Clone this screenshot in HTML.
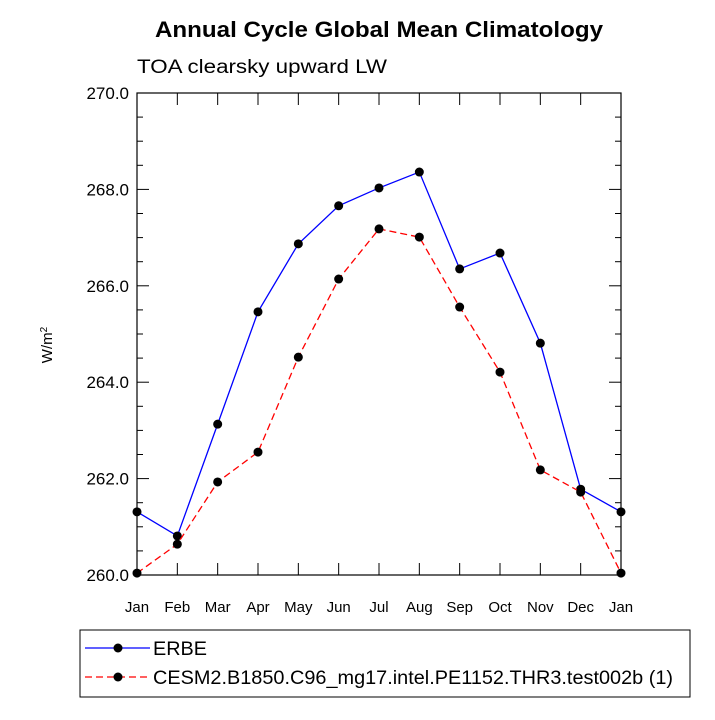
<!DOCTYPE html>
<html><head><meta charset="utf-8"><style>
body{margin:0;background:#fff;}
svg text{font-family:"Liberation Sans",Helvetica,sans-serif;}
</style></head><body>
<svg id="chart" width="715" height="715" xmlns="http://www.w3.org/2000/svg">
<rect width="715" height="715" fill="#fff"/>
<text x="379" y="37" text-anchor="middle" font-size="22" font-weight="bold" textLength="448" lengthAdjust="spacingAndGlyphs">Annual Cycle Global Mean Climatology</text>
<text x="137" y="73" font-size="19" textLength="250" lengthAdjust="spacingAndGlyphs">TOA clearsky upward LW</text>
<text transform="translate(52,345) rotate(-90)" text-anchor="middle" font-size="15">W/m<tspan baseline-shift="super" font-size="10">2</tspan></text>
<g id="axes"></g>
<g id="series"></g>
<g>
<rect x="80" y="630" width="610" height="67" fill="none" stroke="#000" stroke-width="1"/>
<g>
<line x1="85" y1="648" x2="150" y2="648" stroke="#0000ff" stroke-width="1.3"/>
<circle cx="118" cy="648" r="4.5" fill="#000"/>
<text x="153" y="655" font-size="19" textLength="54" lengthAdjust="spacingAndGlyphs">ERBE</text></g>
<g>
<line x1="85" y1="677" x2="150" y2="677" stroke="#ff0000" stroke-width="1.3" stroke-dasharray="7,4"/>
<circle cx="118" cy="677" r="4.5" fill="#000"/>
<text x="153" y="684" font-size="19" textLength="520" lengthAdjust="spacingAndGlyphs">CESM2.B1850.C96_mg17.intel.PE1152.THR3.test002b (1)</text></g>
</g>
</svg>
<script>
const months = ["Jan","Feb","Mar","Apr","May","Jun","Jul","Aug","Sep","Oct","Nov","Dec","Jan"];
const erbeValues = [261.31,260.81,263.13,265.46,266.87,267.66,268.03,268.36,266.35,266.68,264.81,261.78,261.31];
const modelValues = [260.04,260.64,261.93,262.55,264.52,266.14,267.18,267.01,265.56,264.21,262.18,261.72,260.04];
const yTickLabels = ["260.0","262.0","264.0","266.0","268.0","270.0"];
const yMin = 260, yMax = 270;
const L=137,R=621,T=93,B=575;
const NS="http://www.w3.org/2000/svg";
function xs(i){return L+(R-L)*i/(months.length-1);}
function ys(v){return B-(B-T)*(v-yMin)/(yMax-yMin);}
function mk(tag,attrs,parent){const e=document.createElementNS(NS,tag);for(const k in attrs)e.setAttribute(k,attrs[k]);parent.appendChild(e);return e;}
const axes=document.getElementById('axes');
const frame=mk('rect',{x:L,y:T,width:R-L,height:B-T,fill:'none',stroke:'#000','stroke-width':1.2},axes);


for(let v=yMin;v<=yMax+1e-9;v+=0.5){
  const y=ys(v);const major=Math.abs(v-Math.round(v/2)*2)<1e-9;const len=major?12:6;
  mk('line',{x1:L,y1:y,x2:L+len,y2:y,stroke:'#000'},axes);
  mk('line',{x1:R,y1:y,x2:R-len,y2:y,stroke:'#000'},axes);
}
yTickLabels.forEach(s=>{
  const t=mk('text',{x:L-8,y:ys(parseFloat(s))+6,'text-anchor':'end','font-size':17},axes);t.textContent=s;
  
  
});
months.forEach((m,i)=>{
  const x=xs(i);
  mk('line',{x1:x,y1:B,x2:x,y2:B-12,stroke:'#000'},axes);
  mk('line',{x1:x,y1:T,x2:x,y2:T+12,stroke:'#000'},axes);
  const t=mk('text',{x:x,y:B+37,'text-anchor':'middle','font-size':15},axes);t.textContent=m;
  
  
});
const ser=document.getElementById('series');
function draw(vals,color,dash,name){
  const g=mk('g',{},ser);
  
  
  const pts=vals.map((v,i)=>xs(i)+','+ys(v)).join(' ');
  const a={points:pts,fill:'none',stroke:color,'stroke-width':1.3};if(dash)a['stroke-dasharray']=dash;
  mk('polyline',a,g);
  vals.forEach((v,i)=>{const c=mk('circle',{cx:xs(i),cy:ys(v),r:4.5,fill:'#000'},g);
    
    });
}
draw(erbeValues,'#0000ff',null,'erbe-series');
draw(modelValues,'#ff0000','7,4','model-series');
</script>
</body></html>
